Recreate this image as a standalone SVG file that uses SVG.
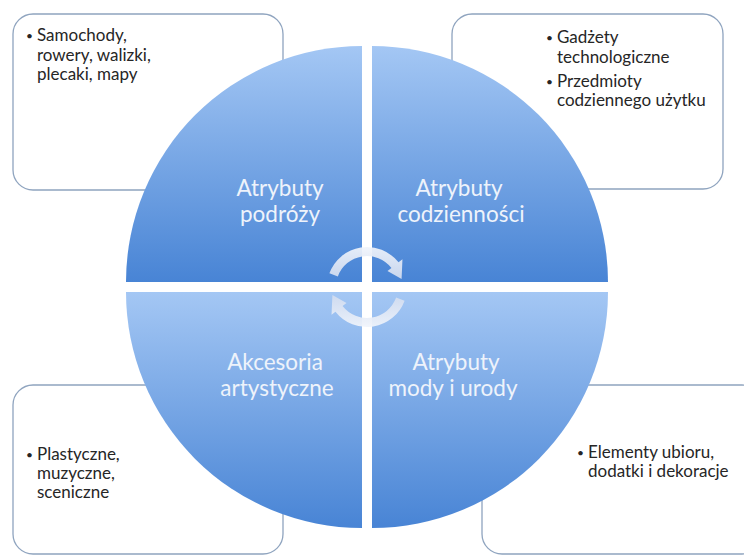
<svg xmlns="http://www.w3.org/2000/svg" width="744" height="557" viewBox="0 0 744 557">
<defs>
<linearGradient id="gq" x1="0" y1="0" x2="0" y2="1">
<stop offset="0" stop-color="#a4c7f4"/>
<stop offset="1" stop-color="#4884d5"/>
</linearGradient>
<linearGradient id="ga" x1="0" y1="0" x2="0" y2="1">
<stop offset="0" stop-color="#f0f4fb"/>
<stop offset="1" stop-color="#d2dcef"/>
</linearGradient>
<path id="arc" d="M-37.59,-13.68 A40,40 0 0 1 31.52,-24.63 L35.46,-27.71 L34.59,-7.99 L20.49,-16.01 L24.43,-19.09 A31,31 0 0 0 -29.13,-10.60 Z"/>
</defs>
<style>
.box{fill:#ffffff;stroke:#8fa4bf;stroke-width:1.3}
.q{fill:url(#gq)}
.t{font-family:Lato,"Liberation Sans",sans-serif;font-size:17px;fill:#262626}
.b{font-family:Lato,"Liberation Sans",sans-serif;font-size:12px;fill:#262626}
.l{font-family:Lato,"Liberation Sans",sans-serif;font-size:22.5px;fill:#eef3fb;text-anchor:middle}
.a{fill:url(#ga);opacity:0.93}
</style>
<rect width="744" height="557" fill="#ffffff"/>
<g id="box-tl"><rect class="box" x="13" y="14" width="270" height="176" rx="20"/>
<text class="b" x="26" y="40">•</text><text class="t" x="37" y="41">Samochody,</text><text class="t" x="37" y="61">rowery, walizki,</text><text class="t" x="37" y="80">plecaki, mapy</text></g>
<g id="box-tr"><rect class="box" x="452" y="14" width="271" height="175" rx="20"/>
<text class="b" x="546" y="42">•</text><text class="t" x="557" y="43">Gadżety</text><text class="t" x="557" y="63">technologiczne</text>
<text class="b" x="546" y="86">•</text><text class="t" x="557" y="87">Przedmioty</text><text class="t" x="557" y="106">codziennego użytku</text></g>
<g id="box-bl"><rect class="box" x="13" y="385" width="270" height="169" rx="20"/>
<text class="b" x="26" y="459">•</text><text class="t" x="37" y="460">Plastyczne,</text><text class="t" x="37" y="479">muzyczne,</text><text class="t" x="37" y="498">sceniczne</text></g>
<g id="box-br"><rect class="box" x="482" y="385" width="280" height="169" rx="20"/>
<text class="b" x="577" y="457">•</text><text class="t" x="588" y="458">Elementy ubioru,</text><text class="t" x="588" y="477">dodatki i dekoracje</text></g>
<g id="q-tl"><path class="q" d="M362,282 L126,282 A236,236 0 0 1 362,46 Z"/>
<text class="l" x="280" y="196">Atrybuty</text><text class="l" x="280" y="222">podróży</text></g>
<g id="q-tr"><path class="q" d="M372,282 L372,46 A236,236 0 0 1 608,282 Z"/>
<text class="l" x="459" y="196">Atrybuty</text><text class="l" x="461" y="222">codzienności</text></g>
<g id="q-bl"><path class="q" d="M362,292 L362,528 A236,236 0 0 1 126,292 Z"/>
<text class="l" x="275" y="370">Akcesoria</text><text class="l" x="277" y="396">artystyczne</text></g>
<g id="q-br"><path class="q" d="M372,292 L608,292 A236,236 0 0 1 372,528 Z"/>
<text class="l" x="456" y="370">Atrybuty</text><text class="l" x="453" y="396">mody i urody</text></g>
<g id="connectors">
<use class="a" href="#arc" transform="translate(367,287)"/>
<use class="a" href="#arc" transform="translate(367,287) rotate(180)"/>
</g>
</svg>
